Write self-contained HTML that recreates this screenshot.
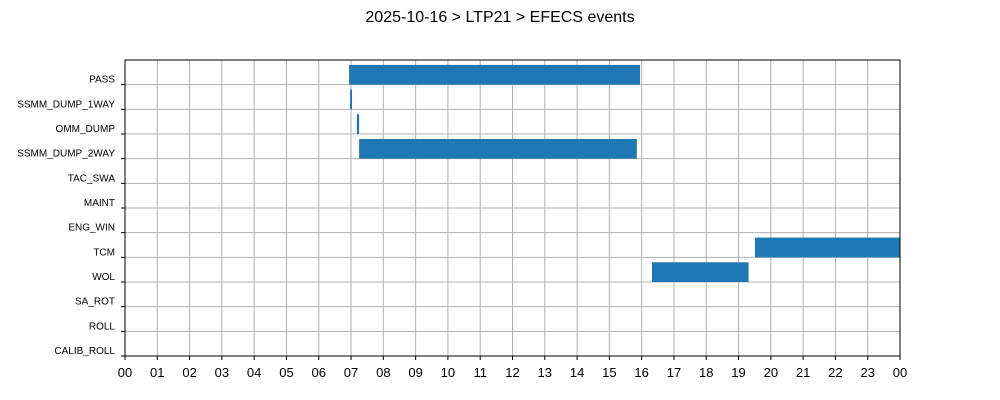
<!DOCTYPE html>
<html><head><meta charset="utf-8"><style>
body{margin:0;background:#fff;}
svg{display:block;font-family:"Liberation Sans","DejaVu Sans",sans-serif;}
</style></head><body>
<svg id="chart" width="1000" height="400">
<text x="500" y="22" text-anchor="middle" font-size="16">2025-10-16 &gt; LTP21 &gt; EFECS events</text>
<g id="grid"></g><g id="bars"></g><g id="axes"></g>
</svg>
<script>
const categories=["PASS","SSMM_DUMP_1WAY","OMM_DUMP","SSMM_DUMP_2WAY","TAC_SWA","MAINT","ENG_WIN","TCM","WOL","SA_ROT","ROLL","CALIB_ROLL"];
const eventCategory=["PASS","SSMM_DUMP_1WAY","OMM_DUMP","SSMM_DUMP_2WAY","TCM","WOL"];
const eventStart=[6.94,6.97,7.18,7.25,19.51,16.32];
const eventEnd=[15.95,7.03,7.25,15.85,24,19.31];
const xTickLabels=["00","01","02","03","04","05","06","07","08","09","10","11","12","13","14","15","16","17","18","19","20","21","22","23","00"];
const NS="http://www.w3.org/2000/svg";
const L=125,R=900,T=60,B=356;
const n=categories.length;
function xs(h){return L+(R-L)*h/24;}
function ys(v){return B-(B-T)*v/n;}
function yIndex(c){return n-1-categories.indexOf(c);}
function mk(tag,attrs,parent){const e=document.createElementNS(NS,tag);for(const k in attrs)e.setAttribute(k,attrs[k]);parent.appendChild(e);return e;}
const grid=document.getElementById('grid'),bars=document.getElementById('bars'),axes=document.getElementById('axes');
xTickLabels.forEach((lab,i)=>{const x=xs(i);
 const g=mk('line',{x1:x,x2:x,y1:T,y2:B,stroke:'#b0b0b0','stroke-width':1},grid);
 
 
 const t=mk('line',{x1:x,x2:x,y1:B,y2:B+4,stroke:'#000','stroke-width':1},axes);
 
 
 const tx=mk('text',{x:x,y:B+21,'text-anchor':'middle','font-size':13},axes);tx.textContent=lab;
 
 
});
categories.forEach((c,i)=>{const y=ys(n-1-i);
 const g=mk('line',{x1:L,x2:R,y1:y,y2:y,stroke:'#b0b0b0','stroke-width':1},grid);
 
 
 const t=mk('line',{x1:L-4,x2:L,y1:y,y2:y,stroke:'#000','stroke-width':1},axes);
 
 
 const tx=mk('text',{x:L-10,y:y-2,'text-anchor':'end','font-size':10},axes);tx.textContent=c;
 
 
});
eventCategory.forEach((c,i)=>{const v=yIndex(c);
 const x0=xs(eventStart[i]),x1=xs(eventEnd[i]);
 const r=mk('rect',{x:x0,y:ys(v+0.8),width:Math.max(1,x1-x0),height:ys(v)-ys(v+0.8),fill:'#1f77b4'},bars);
 
 
});
const f=mk('rect',{x:L,y:T,width:R-L,height:B-T,fill:'none',stroke:'#000','stroke-width':1},axes);


</script>
</body></html>
